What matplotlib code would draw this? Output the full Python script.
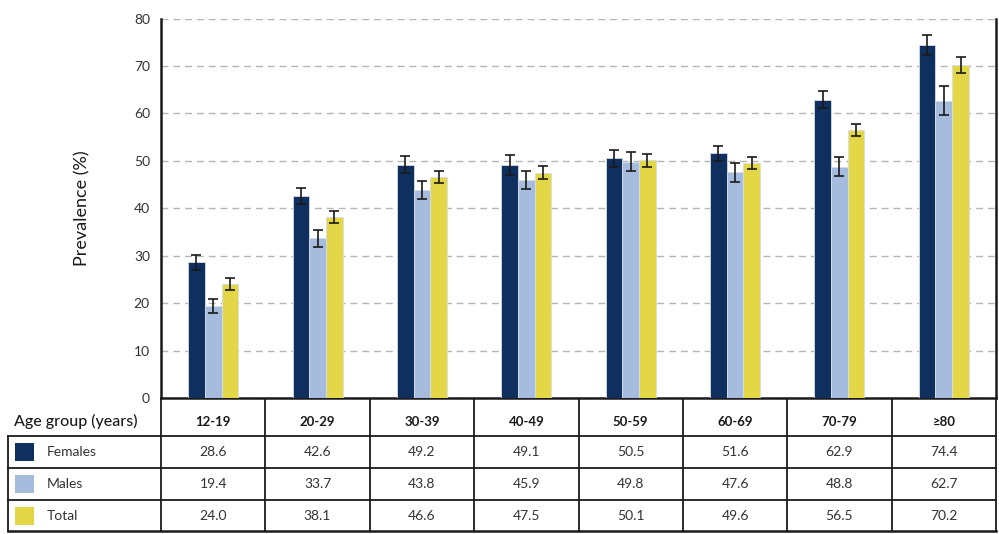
import matplotlib.pyplot as plt
import numpy as np
from matplotlib.patches import Rectangle

# data
age_groups = ['12-19', '20-29', '30-39', '40-49', '50-59', '60-69', '70-79', '≥80']
females = [28.6, 42.6, 49.2, 49.1, 50.5, 51.6, 62.9, 74.4]
males = [19.4, 33.7, 43.8, 45.9, 49.8, 47.6, 48.8, 62.7]
total = [24.0, 38.1, 46.6, 47.5, 50.1, 49.6, 56.5, 70.2]
females_err = [1.6, 1.7, 1.8, 2.1, 1.8, 1.6, 1.8, 2.1]
males_err = [1.5, 1.8, 1.9, 1.9, 2.0, 2.0, 2.0, 3.0]
total_err = [1.2, 1.3, 1.3, 1.4, 1.4, 1.3, 1.3, 1.7]

series_names = ['Females', 'Males', 'Total']
colors = ['#0f305e', '#a6bcdf', '#e3d748']

plt.rcParams['font.family'] = ['Lato', 'DejaVu Sans']

W, H = 999, 534
fig = plt.figure(figsize=(W / 100, H / 100), dpi=100)

# plot area in pixels
x0, x1 = 161, 996
y_top, y_bot = 18.5, 398
ax = fig.add_axes([x0 / W, 1 - y_bot / H, (x1 - x0) / W, (y_bot - y_top) / H])

n = len(age_groups)
idx = np.arange(n)
bw = 0.16
for k, (vals, errs) in enumerate(zip([females, males, total],
                                     [females_err, males_err, total_err])):
    pos = idx + (k - 1) * bw
    ax.bar(pos, vals, width=bw, color=colors[k], edgecolor='#d8dde6',
           linewidth=0.6, zorder=3)
    ax.errorbar(pos, vals, yerr=errs, fmt='none', ecolor='#1a1a1a',
                elinewidth=1.2, capsize=3.5, capthick=1.2, zorder=4)

ax.set_xlim(-0.5, n - 0.5)
ax.set_ylim(0, 80)
ax.set_yticks(np.arange(0, 81, 10))
ax.set_xticks([])
ax.tick_params(axis='y', length=0, pad=8, labelsize=10, labelcolor='#333333')
ax.yaxis.grid(True, color='#b5b5b5', linestyle=(0, (5, 3.5)), linewidth=1.0)
ax.set_axisbelow(True)
for s in ['left', 'right', 'bottom']:
    ax.spines[s].set_linewidth(1.8)
    ax.spines[s].set_color('#1a1a1a')
ax.spines['top'].set_visible(False)
ax.set_ylabel('Prevalence (%)', fontsize=13, labelpad=31, color='#1a1a1a')

# table below the plot, drawn in pixel coordinates
tb = fig.add_axes([0, 0, 1, 1], zorder=-1)
tb.set_xlim(0, W)
tb.set_ylim(H, 0)
tb.axis('off')

lc = '#1a1a1a'
col_w = (x1 - x0) / n
row_lines = [436, 468, 500, 531]
for xb in [x0 + k * col_w for k in range(n + 1)]:
    tb.plot([xb, xb], [y_bot, row_lines[-1]], color=lc, lw=1.3)
tb.plot([8, 8], [row_lines[0], row_lines[-1]], color=lc, lw=1.3)
for yl in row_lines:
    tb.plot([8, x1], [yl, yl], color=lc, lw=1.3 if yl != row_lines[-1] else 1.8)

tb.text(14, 421, 'Age group (years)', fontsize=11.5, fontweight='medium',
        va='center', ha='left', color='#1a1a1a')
for i, g in enumerate(age_groups):
    tb.text(x0 + (i + 0.5) * col_w, 422, g, fontsize=9.5, fontweight='bold',
            va='center', ha='center', color='#1a1a1a')

for r, (name, vals) in enumerate(zip(series_names, [females, males, total])):
    yc = (row_lines[r] + row_lines[r + 1]) / 2
    tb.add_patch(Rectangle((15, yc - 9), 19, 18, facecolor=colors[r],
                           edgecolor='none'))
    tb.text(47, yc, name, fontsize=10, va='center', ha='left', color='#333333')
    for i, v in enumerate(vals):
        tb.text(x0 + (i + 0.5) * col_w, yc, f'{v:.1f}', fontsize=10,
                va='center', ha='center', color='#333333')

fig.savefig('out.png', dpi=100)
